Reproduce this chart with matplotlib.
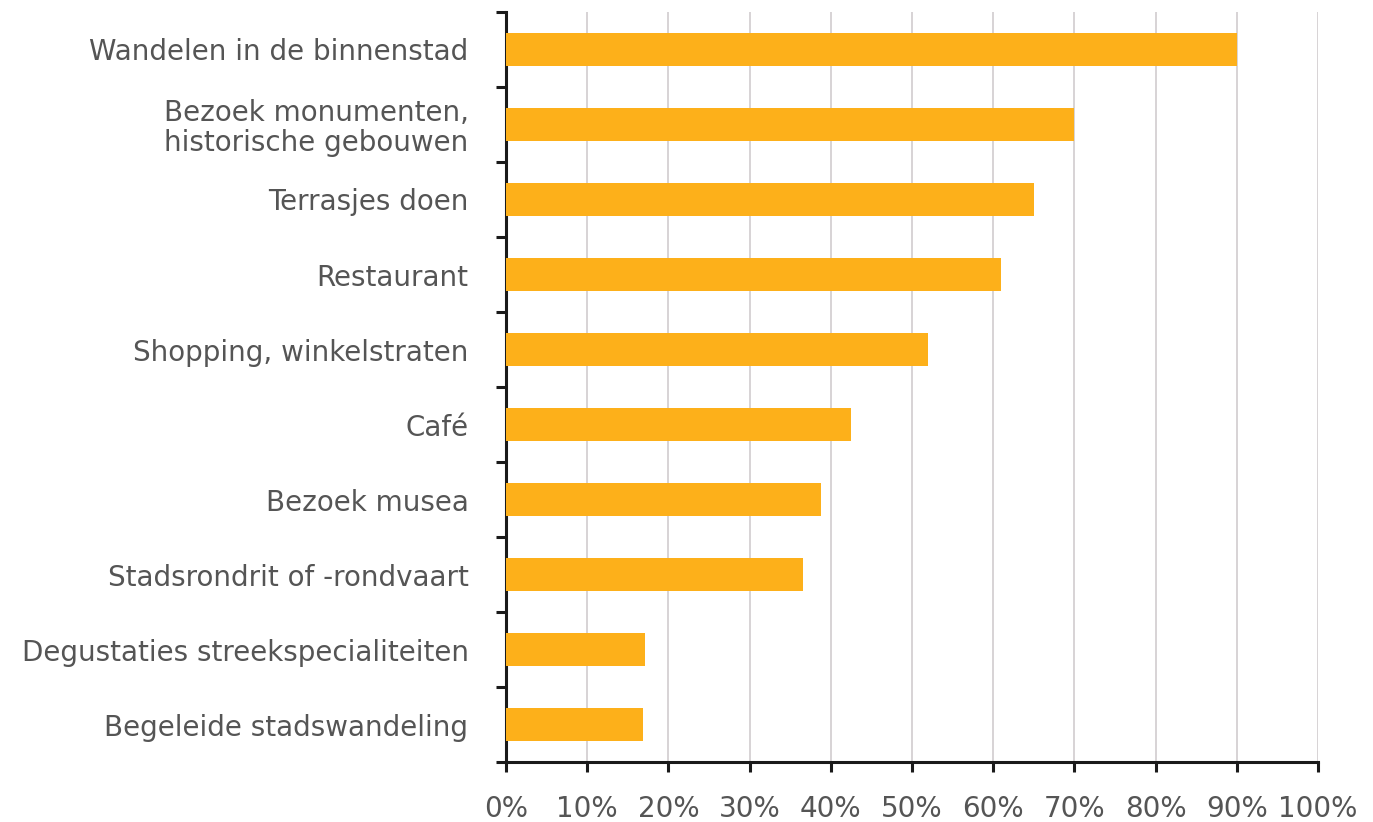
import matplotlib.pyplot as plt
from matplotlib.ticker import FixedLocator

activities = [
    'Wandelen in de binnenstad',
    'Bezoek monumenten,\nhistorische gebouwen',
    'Terrasjes doen',
    'Restaurant',
    'Shopping, winkelstraten',
    'Café',
    'Bezoek musea',
    'Stadsrondrit of -rondvaart',
    'Degustaties streekspecialiteiten',
    'Begeleide stadswandeling',
]
shares = [90, 70, 65, 61, 52, 42.5, 38.8, 36.6, 17.1, 16.9]
x_ticks = [0, 10, 20, 30, 40, 50, 60, 70, 80, 90, 100]

bar_color = '#FDB01A'
text_color = '#555555'

plt.rcParams['font.family'] = ['DejaVu Sans']

fig = plt.figure(figsize=(13.73, 8.22), dpi=100)
ax = fig.add_axes([506 / 1373, 60 / 822, (1318 - 506) / 1373, (762 - 12) / 822])

n = len(activities)
ypos = list(range(n))[::-1]
ax.barh(ypos, shares, height=0.43, color=bar_color, zorder=3)

ax.set_xlim(0, 100)
ax.set_ylim(-0.5, n - 0.5)
ax.set_xticks(x_ticks)
ax.set_xticklabels([f'{t}%' for t in x_ticks])
ax.set_yticks(ypos)
ax.set_yticklabels(activities, ha='right', linespacing=1.05)
ax.yaxis.set_minor_locator(FixedLocator([i - 0.5 for i in range(n + 1)]))

ax.grid(axis='x', color='#d4d0d2', linewidth=1.3, zorder=0)
for s in ['top', 'right']:
    ax.spines[s].set_visible(False)
for s in ['left', 'bottom']:
    ax.spines[s].set_linewidth(2.2)
    ax.spines[s].set_color('#1a1a1a')

ax.tick_params(axis='y', which='major', length=0, pad=27, labelsize=20, labelcolor=text_color)
ax.tick_params(axis='y', which='minor', length=7, width=2.2, color='#1a1a1a')
ax.tick_params(axis='x', which='major', length=7, width=2.2, color='#1a1a1a', pad=17,
               labelsize=20, labelcolor=text_color)

fig.savefig('out.png', dpi=100)
